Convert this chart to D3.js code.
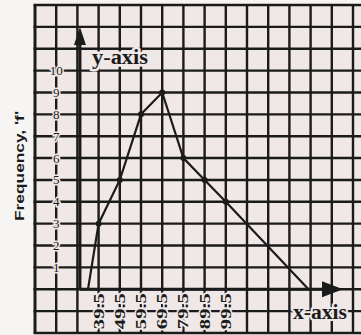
<!DOCTYPE html>
<html><head><meta charset="utf-8">
<script src="https://cdn.jsdelivr.net/npm/d3@7"></script>
<style>html,body{margin:0;padding:0;background:#f6f5f3;}svg{display:block;}</style>
</head><body>
<svg id="c" width="361" height="335"></svg>
<script>
// ---- data ----
const classBoundaries = [39.5, 49.5, 59.5, 69.5, 79.5, 89.5, 99.5];
const frequencies = [3, 5, 8, 9, 6, 5, 4];
const polygonStart = [34.5, 0];
const polygonEnd = [138.5, 0];
const xTickLabels = ["39.5", "49.5", "59.5", "69.5", "79.5", "89.5", "99.5"];
const yTickValues = [1, 2, 3, 4, 5, 6, 7, 8, 9, 10];
const gridXValues = d3.range(9.5, 160, 10);
const gridYValues = d3.range(-2, 14, 1);
const yAxisAt = 30.7;

const svg = d3.select("#c");
const x = d3.scaleLinear().domain([9.5, 159.5]).range([35, 353]);
const y = d3.scaleLinear().domain([-2, 13]).range([333, 5]);
const ink = "#1b1b1b", paper = "#efe8e6";

svg.append("rect").attr("width", 361).attr("height", 335).attr("fill", "#f6f5f3");
svg.append("rect").attr("x", x(9.5)).attr("y", y(13)).attr("width", 361 - x(9.5))
  .attr("height", y(-2) - y(13)).attr("fill", paper);

// grid
svg.append("g").selectAll("line").data(gridXValues).join("line")
  .attr("x1", d => x(d)).attr("x2", d => x(d)).attr("y1", y(13)).attr("y2", y(-2))
  .attr("stroke", ink).attr("stroke-width", (d, i) => i === 0 ? 3 : 2.4);
svg.append("g").selectAll("line").data(gridYValues).join("line")
  .attr("x1", x(9.5) - 1.5).attr("x2", 361).attr("y1", d => y(d)).attr("y2", d => y(d))
  .attr("stroke", ink).attr("stroke-width", 2.4);

// axes
const ax = x(yAxisAt), ay = y(0);
svg.append("line").attr("x1", ax).attr("x2", ax).attr("y1", ay).attr("y2", 44)
  .attr("stroke", ink).attr("stroke-width", 3);
svg.append("path").attr("d", `M${ax},27 L${ax - 6},45 L${ax + 6},45 Z`).attr("fill", ink);
svg.append("line").attr("x1", ax).attr("x2", 324).attr("y1", ay).attr("y2", ay)
  .attr("stroke", ink).attr("stroke-width", 3);
svg.append("path").attr("d", `M343,${ay} L322,${ay - 8} L322,${ay + 8} Z`).attr("fill", ink);

// frequency polygon
const pts = [polygonStart, ...classBoundaries.map((c, i) => [c, frequencies[i]]), polygonEnd];
svg.append("path").datum(pts)
  .attr("d", d3.line().x(d => x(d[0])).y(d => y(d[1])))
  .attr("fill", "none").attr("stroke", ink).attr("stroke-width", 2.2);
svg.append("g").selectAll("circle").data(classBoundaries).join("circle")
  .attr("cx", d => x(d)).attr("cy", (d, i) => y(frequencies[i])).attr("r", 3).attr("fill", ink);

// y tick labels
svg.append("g").selectAll("text").data(yTickValues).join("text")
  .attr("x", x(19.5)).attr("y", d => y(d) + 4.5).attr("text-anchor", "middle")
  .attr("font-family", "Liberation Serif, serif").attr("font-size", 13).attr("fill", ink)
  .attr("stroke", paper).attr("stroke-width", 3).attr("paint-order", "stroke")
  .text(d => d);

// x tick labels (rotated)
svg.append("g").selectAll("text").data(classBoundaries).join("text")
  .attr("transform", d => `translate(${x(d) + 5},${y(-1)}) rotate(-90)`)
  .attr("text-anchor", "middle").attr("font-family", "Liberation Serif, serif")
  .attr("font-size", 15).attr("font-weight", "bold").attr("fill", ink)
  .attr("stroke", paper).attr("stroke-width", 3).attr("paint-order", "stroke")
  .attr("textLength", 36).attr("lengthAdjust", "spacingAndGlyphs")
  .text((d, i) => xTickLabels[i]);

// axis names
svg.append("text").attr("x", 92).attr("y", 64).attr("font-family", "Liberation Serif, serif")
  .attr("font-size", 20).attr("font-weight", "bold").attr("fill", ink)
  .attr("stroke", paper).attr("stroke-width", 5).attr("paint-order", "stroke")
  .attr("textLength", 56).attr("lengthAdjust", "spacingAndGlyphs").text("y-axis");
svg.append("text").attr("x", 293).attr("y", 319).attr("font-family", "Liberation Serif, serif")
  .attr("font-size", 20).attr("font-weight", "bold").attr("fill", ink)
  .attr("stroke", paper).attr("stroke-width", 4).attr("paint-order", "stroke")
  .attr("textLength", 54).attr("lengthAdjust", "spacingAndGlyphs").text("x-axis");
svg.append("text").attr("transform", "translate(24,166) rotate(-90)")
  .attr("text-anchor", "middle").attr("font-family", "Liberation Sans, sans-serif")
  .attr("font-size", 13).attr("font-weight", "bold").attr("fill", ink)
  .attr("textLength", 110).attr("lengthAdjust", "spacingAndGlyphs").text("Frequency, 'f'");
</script>
</body></html>
